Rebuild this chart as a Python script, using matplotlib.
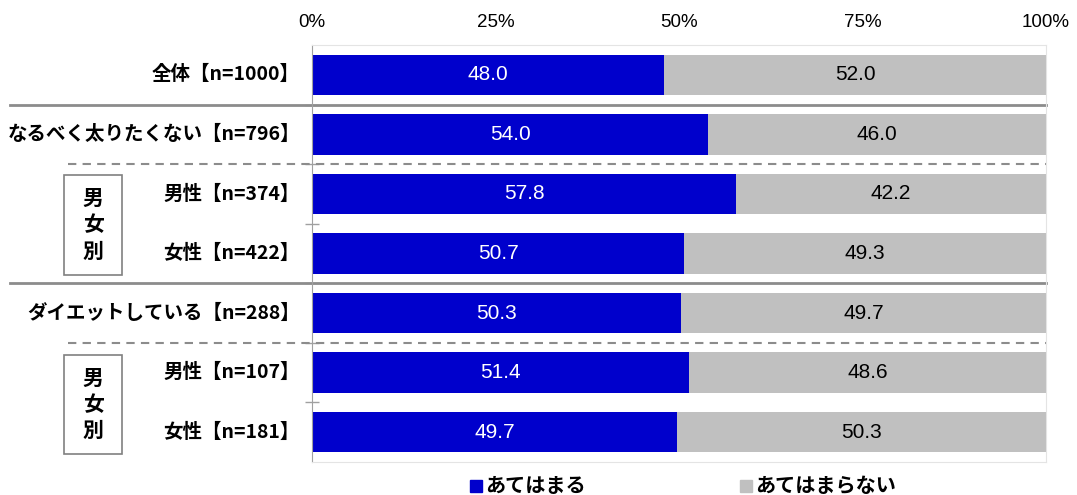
import matplotlib
matplotlib.use('Agg')
import matplotlib.pyplot as plt
from matplotlib.patches import Rectangle
from matplotlib.transforms import blended_transform_factory

plt.rcParams['font.family'] = ['Noto Sans CJK JP', 'DejaVu Sans']

categories = ['全体【n=1000】', 'なるべく太りたくない【n=796】', '男性【n=374】', '女性【n=422】',
              'ダイエットしている【n=288】', '男性【n=107】', '女性【n=181】']
applies = [48.0, 54.0, 57.8, 50.7, 50.3, 51.4, 49.7]
not_applies = [52.0, 46.0, 42.2, 49.3, 49.7, 48.6, 50.3]
series_names = ['あてはまる', 'あてはまらない']
xticks = [0, 25, 50, 75, 100]

BLUE = '#0000CC'
GRAY = '#C0C0C0'

fig = plt.figure(figsize=(10.77, 4.95), dpi=100)
ax = fig.add_axes([312 / 1077, 1 - 462 / 495, (1046 - 312) / 1077, (462 - 45) / 495])

rows = list(range(len(categories)))
ax.barh(rows, applies, height=0.68, color=BLUE)
ax.barh(rows, not_applies, left=applies, height=0.68, color=GRAY)

for i in rows:
    ax.text(applies[i] / 2, i, f'{applies[i]:.1f}', ha='center', va='center',
            color='white', fontsize=15, family='Liberation Sans')
    ax.text(applies[i] + not_applies[i] / 2, i, f'{not_applies[i]:.1f}', ha='center',
            va='center', color='black', fontsize=15, family='Liberation Sans')

ax.set_xlim(0, 100)
ax.set_ylim(len(categories) - 0.5, -0.5)
ax.xaxis.tick_top()
ax.set_xticks(xticks)
ax.set_xticklabels([f'{t}%' for t in xticks], fontsize=13.5, family='Liberation Sans')
ax.tick_params(axis='x', length=0, pad=10)
ax.set_yticks([])
ax.set_yticks([r + 0.5 for r in rows[:-1]], minor=True)
ax.tick_params(axis='y', which='minor', direction='inout', length=10, color='#A0A0A0', width=1)

for s in ['top', 'right', 'bottom']:
    ax.spines[s].set_color('#E4E4E4')
ax.spines['left'].set_color('#A0A0A0')

# category labels (x in figure fraction, y in data rows)
tr = blended_transform_factory(fig.transFigure, ax.transData)
for i, c in enumerate(categories):
    fig.text(300 / 1077, i, c, transform=tr, ha='right', va='center', fontsize=14,
             fontweight='bold')

# separator lines
for y, style, x0 in [(0.5, '-', 10), (1.5, '--', 68), (3.5, '-', 10), (4.5, '--', 68)]:
    if style == '-':
        ax.plot([x0 / 1077, 1046 / 1077], [y, y], transform=tr, color='#8C8C8C', lw=2,
                clip_on=False)
    else:
        ax.plot([x0 / 1077, 1046 / 1077], [y, y], transform=tr, color='#8C8C8C', lw=1.5,
                ls=(0, (4, 3)), clip_on=False)

# group boxes
for y0, y1 in [(1.68, 3.36), (4.70, 6.36)]:
    ax.add_patch(Rectangle((64 / 1077, y0), (122 - 64) / 1077, y1 - y0, transform=tr,
                           fill=False, edgecolor='#808080', lw=1.2, clip_on=False))
    fig.text(93 / 1077, (y0 + y1) / 2, '男\n女\n別', transform=tr, ha='center',
             va='center', fontsize=15, fontweight='bold', linespacing=1.3)

# legend
fig.add_artist(Rectangle((470 / 1077, 1 - 492 / 495), 12 / 1077, 12 / 495,
                         transform=fig.transFigure, color=BLUE))
fig.text(485 / 1077, 1 - 486 / 495, series_names[0], ha='left', va='center',
         fontsize=14.5, fontweight='bold')
fig.add_artist(Rectangle((740 / 1077, 1 - 492 / 495), 12 / 1077, 12 / 495,
                         transform=fig.transFigure, color=GRAY))
fig.text(755 / 1077, 1 - 486 / 495, series_names[1], ha='left', va='center',
         fontsize=14.5, fontweight='bold')

fig.savefig('out.png', dpi=100)
